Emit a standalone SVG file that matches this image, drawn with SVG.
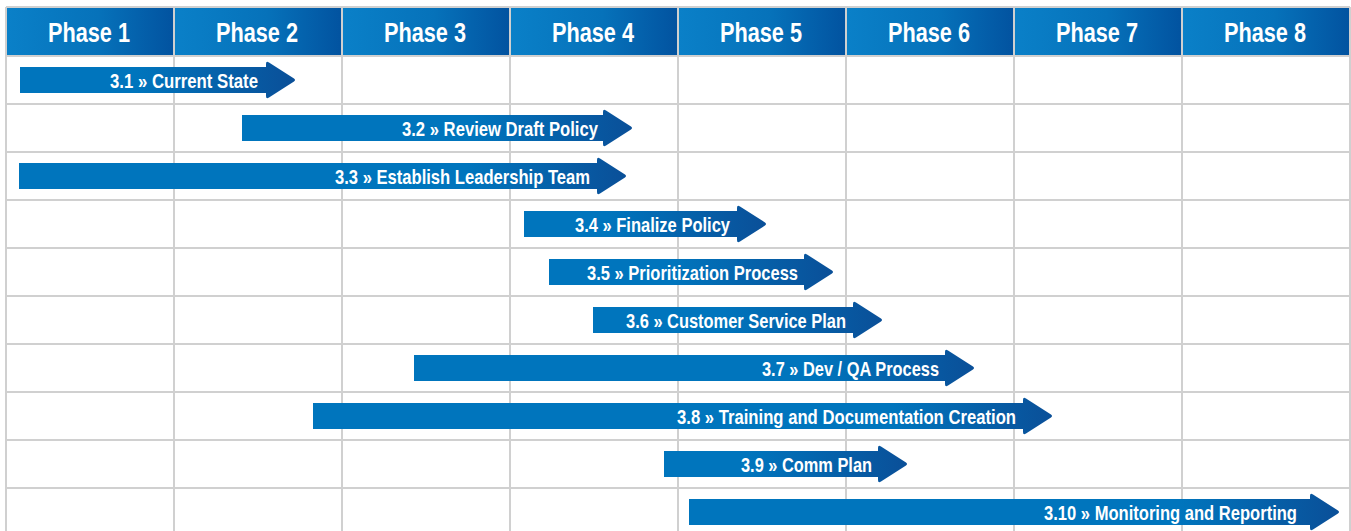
<svg xmlns="http://www.w3.org/2000/svg" width="1351" height="531" viewBox="0 0 1351 531">
<defs>
<linearGradient id="hdr" x1="0" y1="0" x2="1" y2="0">
<stop offset="0" stop-color="#0a80c8"/>
<stop offset="0.55" stop-color="#0672ba"/>
<stop offset="1" stop-color="#0253a0"/>
</linearGradient>
<linearGradient id="arr" gradientUnits="userSpaceOnUse" x1="-160" y1="0" x2="0" y2="0">
<stop offset="0" stop-color="#0075bd"/>
<stop offset="1" stop-color="#0a4f98"/>
</linearGradient>
</defs>
<style>
.grid{stroke:#d0d0d0;stroke-width:2;fill:none}
.hcell{fill:url(#hdr)}
.htxt{font-family:"Liberation Sans",Arial,sans-serif;font-weight:bold;font-size:27px;fill:#ffffff;text-anchor:middle}
.arrow{fill:url(#arr)}
.atxt{font-family:"Liberation Sans",Arial,sans-serif;font-weight:bold;font-size:21px;fill:#ffffff;text-anchor:end}
</style>
<rect x="0" y="0" width="1351" height="531" fill="#ffffff"/>
<g id="grid">
<path class="grid" d="M6,56H1350M6,104H1350M6,152H1350M6,200H1350M6,248H1350M6,296H1350M6,344H1350M6,392H1350M6,440H1350M6,488H1350"/>
<path class="grid" d="M6,7V531M174,7V531M342,7V531M510,7V531M678,7V531M846,7V531M1014,7V531M1182,7V531M1350,7V531M6,7H1350"/>
</g>
<g id="header">
<g id="phase1"><rect class="hcell" x="7" y="8" width="166" height="47"/><text class="htxt" x="89" y="42" textLength="82" lengthAdjust="spacingAndGlyphs">Phase 1</text></g>
<g id="phase2"><rect class="hcell" x="175" y="8" width="166" height="47"/><text class="htxt" x="257" y="42" textLength="82" lengthAdjust="spacingAndGlyphs">Phase 2</text></g>
<g id="phase3"><rect class="hcell" x="343" y="8" width="166" height="47"/><text class="htxt" x="425" y="42" textLength="82" lengthAdjust="spacingAndGlyphs">Phase 3</text></g>
<g id="phase4"><rect class="hcell" x="511" y="8" width="166" height="47"/><text class="htxt" x="593" y="42" textLength="82" lengthAdjust="spacingAndGlyphs">Phase 4</text></g>
<g id="phase5"><rect class="hcell" x="679" y="8" width="166" height="47"/><text class="htxt" x="761" y="42" textLength="82" lengthAdjust="spacingAndGlyphs">Phase 5</text></g>
<g id="phase6"><rect class="hcell" x="847" y="8" width="166" height="47"/><text class="htxt" x="929" y="42" textLength="82" lengthAdjust="spacingAndGlyphs">Phase 6</text></g>
<g id="phase7"><rect class="hcell" x="1015" y="8" width="166" height="47"/><text class="htxt" x="1097" y="42" textLength="82" lengthAdjust="spacingAndGlyphs">Phase 7</text></g>
<g id="phase8"><rect class="hcell" x="1183" y="8" width="166" height="47"/><text class="htxt" x="1265" y="42" textLength="82" lengthAdjust="spacingAndGlyphs">Phase 8</text></g>
</g>
<g id="connectors"></g>
<g id="task3-1" transform="translate(296,80)"><path class="arrow" d="M-276,-13H-30V-16Q-30,-19.5-27,-17.5L-2,-1.5Q0,0-2,1.5L-27,17.5Q-30,19.5-30,16V13H-276Z"/><text class="atxt" x="-38" y="7.5" textLength="148" lengthAdjust="spacingAndGlyphs">3.1 » Current State</text></g>
<g id="task3-2" transform="translate(633,128)"><path class="arrow" d="M-391,-13H-30V-16Q-30,-19.5-27,-17.5L-2,-1.5Q0,0-2,1.5L-27,17.5Q-30,19.5-30,16V13H-391Z"/><text class="atxt" x="-35" y="7.5" textLength="196" lengthAdjust="spacingAndGlyphs">3.2 » Review Draft Policy</text></g>
<g id="task3-3" transform="translate(627,176)"><path class="arrow" d="M-608,-13H-30V-16Q-30,-19.5-27,-17.5L-2,-1.5Q0,0-2,1.5L-27,17.5Q-30,19.5-30,16V13H-608Z"/><text class="atxt" x="-37" y="7.5" textLength="255" lengthAdjust="spacingAndGlyphs">3.3 » Establish Leadership Team</text></g>
<g id="task3-4" transform="translate(767,224)"><path class="arrow" d="M-243,-13H-30V-16Q-30,-19.5-27,-17.5L-2,-1.5Q0,0-2,1.5L-27,17.5Q-30,19.5-30,16V13H-243Z"/><text class="atxt" x="-37" y="7.5" textLength="155" lengthAdjust="spacingAndGlyphs">3.4 » Finalize Policy</text></g>
<g id="task3-5" transform="translate(834,272)"><path class="arrow" d="M-285,-13H-30V-16Q-30,-19.5-27,-17.5L-2,-1.5Q0,0-2,1.5L-27,17.5Q-30,19.5-30,16V13H-285Z"/><text class="atxt" x="-36" y="7.5" textLength="211" lengthAdjust="spacingAndGlyphs">3.5 » Prioritization Process</text></g>
<g id="task3-6" transform="translate(883,320)"><path class="arrow" d="M-290,-13H-30V-16Q-30,-19.5-27,-17.5L-2,-1.5Q0,0-2,1.5L-27,17.5Q-30,19.5-30,16V13H-290Z"/><text class="atxt" x="-37" y="7.5" textLength="220" lengthAdjust="spacingAndGlyphs">3.6 » Customer Service Plan</text></g>
<g id="task3-7" transform="translate(975,368)"><path class="arrow" d="M-561,-13H-30V-16Q-30,-19.5-27,-17.5L-2,-1.5Q0,0-2,1.5L-27,17.5Q-30,19.5-30,16V13H-561Z"/><text class="atxt" x="-36" y="7.5" textLength="177" lengthAdjust="spacingAndGlyphs">3.7 » Dev / QA Process</text></g>
<g id="task3-8" transform="translate(1053,416)"><path class="arrow" d="M-740,-13H-30V-16Q-30,-19.5-27,-17.5L-2,-1.5Q0,0-2,1.5L-27,17.5Q-30,19.5-30,16V13H-740Z"/><text class="atxt" x="-37" y="7.5" textLength="339" lengthAdjust="spacingAndGlyphs">3.8 » Training and Documentation Creation</text></g>
<g id="task3-9" transform="translate(908,464)"><path class="arrow" d="M-244,-13H-30V-16Q-30,-19.5-27,-17.5L-2,-1.5Q0,0-2,1.5L-27,17.5Q-30,19.5-30,16V13H-244Z"/><text class="atxt" x="-36" y="7.5" textLength="131" lengthAdjust="spacingAndGlyphs">3.9 » Comm Plan</text></g>
<g id="task3-10" transform="translate(1340,512)"><path class="arrow" d="M-651,-13H-30V-16Q-30,-19.5-27,-17.5L-2,-1.5Q0,0-2,1.5L-27,17.5Q-30,19.5-30,16V13H-651Z"/><text class="atxt" x="-43" y="7.5" textLength="253" lengthAdjust="spacingAndGlyphs">3.10 » Monitoring and Reporting</text></g>
</svg>
